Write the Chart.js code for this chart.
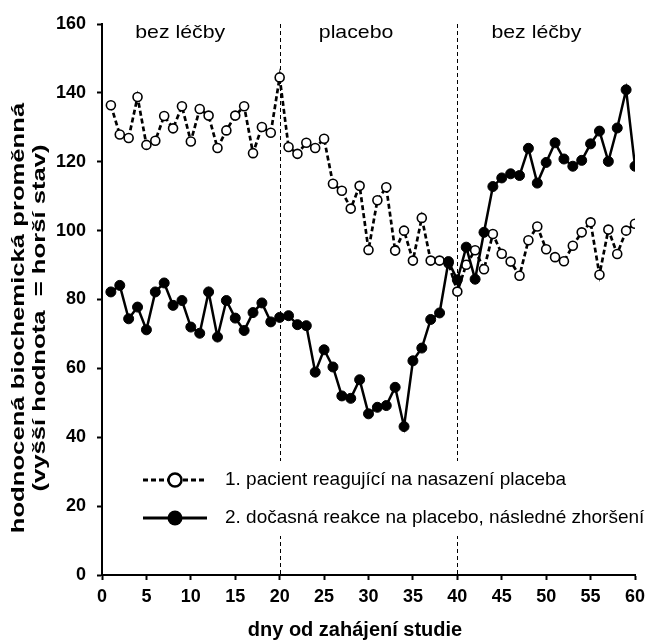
<!DOCTYPE html>
<html>
<head>
<meta charset="utf-8">
<script src="https://cdn.jsdelivr.net/npm/chart.js@4"></script>
<style>
  html, body { margin: 0; padding: 0; background: #fff; }
  canvas { display: block; }
</style>
</head>
<body>
<canvas id="graf" width="671" height="642"></canvas>
<script>
// data
const dny = [1, 2, 3, 4, 5, 6, 7, 8, 9, 10, 11, 12, 13, 14, 15, 16, 17, 18, 19, 20,
    21, 22, 23, 24, 25, 26, 27, 28, 29, 30, 31, 32, 33, 34, 35, 36, 37, 38, 39, 40,
    41, 42, 43, 44, 45, 46, 47, 48, 49, 50, 51, 52, 53, 54, 55, 56, 57, 58, 59, 60];

const pacient1 = [136.4, 127.9, 126.9, 138.8, 124.9, 126.1, 133.3, 129.7, 136.1, 125.9,
    135.3, 133.4, 124.0, 129.1, 133.4, 136.1, 122.5, 130.1, 128.4, 144.5,
    124.3, 122.3, 125.5, 124.0, 126.7, 113.6, 111.6, 106.4, 113.0, 94.4,
    108.8, 112.6, 94.2, 100.0, 91.3, 103.7, 91.3, 91.3, 90.5, 82.3,
    90.1, 94.3, 88.8, 99.0, 93.3, 91.0, 86.9, 97.2, 101.2, 94.6,
    92.3, 91.1, 95.6, 99.5, 102.4, 87.2, 100.3, 93.2, 100.0, 102.0];

const pacient2 = [82.2, 84.1, 74.4, 77.8, 71.2, 82.2, 84.8, 78.3, 79.7, 72.0,
    70.2, 82.2, 69.1, 79.7, 74.6, 71.0, 76.2, 79.0, 73.5, 74.8,
    75.3, 72.7, 72.4, 58.9, 65.4, 60.4, 52.0, 51.3, 56.7, 46.8,
    48.7, 49.2, 54.5, 43.1, 62.2, 65.9, 74.2, 76.1, 91.0, 85.7,
    95.2, 85.9, 99.5, 112.8, 115.3, 116.5, 116.0, 123.9, 113.8, 119.8,
    125.5, 120.8, 118.7, 120.4, 125.2, 128.9, 120.1, 129.8, 140.9, 118.7];

const nazvySerii = ['1. pacient reagující na nasazení placeba', '2. dočasná reakce na placebo, následné zhoršení'];
const obdobi = ['bez léčby', 'placebo', 'bez léčby'];
const hraniceObdobi = [20, 40];
const yTicks = [0, 20, 40, 60, 80, 100, 120, 140, 160];
const xTicks = [0, 5, 10, 15, 20, 25, 30, 35, 40, 45, 50, 55, 60];

const PISMO = '"Liberation Sans", Arial, sans-serif';

function body(hodnoty) {
    return dny.map((d, i) => ({ x: d, y: hodnoty[i] }));
}

// svislé čárkované čáry + popisky období
const obdobiPlugin = {
    id: 'obdobi',
    beforeDatasetsDraw(chart) {
        const { ctx, chartArea, scales } = chart;
        ctx.save();
        ctx.strokeStyle = '#000';
        ctx.lineWidth = 1;
        ctx.setLineDash([4, 3]);
        hraniceObdobi.forEach(d => {
            const x = Math.round(scales.x.getPixelForValue(d)) + 0.5;
            ctx.beginPath();
            ctx.moveTo(x, chartArea.top);
            ctx.lineTo(x, chartArea.bottom);
            ctx.stroke();
        });
        ctx.setLineDash([]);
        ctx.fillStyle = '#000';
        ctx.font = '19px ' + PISMO;
        ctx.textAlign = 'center';
        ctx.textBaseline = 'middle';
        const stredy = [8.8, 28.6, 48.9];
        obdobi.forEach((t, i) => {
            ctx.save();
            ctx.translate(scales.x.getPixelForValue(stredy[i]), 33);
            ctx.scale(1.12, 1);
            ctx.fillText(t, 0, 0);
            ctx.restore();
        });
        ctx.restore();
    }
};

// legenda uvnitř grafu a názvy os
const popiskyPlugin = {
    id: 'popisky',
    afterDraw(chart) {
        const { ctx } = chart;
        ctx.save();
        // bílé pozadí legendy
        ctx.fillStyle = '#fff';
        ctx.fillRect(138, 461, 525, 75);

        const radky = [480, 518];
        ctx.strokeStyle = '#000';
        ctx.lineWidth = 3;
        // 1. vzorek - čárkovaný s prázdným kroužkem
        ctx.setLineDash([5, 3]);
        ctx.beginPath();
        ctx.moveTo(143, radky[0]);
        ctx.lineTo(207, radky[0]);
        ctx.stroke();
        ctx.setLineDash([]);
        ctx.beginPath();
        ctx.arc(175, radky[0], 6.5, 0, Math.PI * 2);
        ctx.fillStyle = '#fff';
        ctx.fill();
        ctx.lineWidth = 2.5;
        ctx.stroke();
        // 2. vzorek - plná čára s plným kroužkem
        ctx.lineWidth = 3;
        ctx.beginPath();
        ctx.moveTo(143, radky[1]);
        ctx.lineTo(207, radky[1]);
        ctx.stroke();
        ctx.beginPath();
        ctx.arc(175, radky[1], 7.5, 0, Math.PI * 2);
        ctx.fillStyle = '#000';
        ctx.fill();

        ctx.fillStyle = '#000';
        ctx.font = '19px ' + PISMO;
        ctx.textAlign = 'left';
        ctx.textBaseline = 'middle';
        nazvySerii.forEach((t, i) => ctx.fillText(t, 225, radky[i]));

        // název osy x
        ctx.font = 'bold 20px ' + PISMO;
        ctx.textAlign = 'center';
        ctx.fillText('dny od zahájení studie', 355, 630);

        // název osy y (dva řádky)
        ctx.font = 'bold 19px ' + PISMO;
        ctx.translate(18.5, 318);
        ctx.rotate(-Math.PI / 2);
        ctx.scale(1.35, 1);
        ctx.fillText('hodnocená biochemická proměnná', 0, 0);
        ctx.fillText('(vyšší hodnota  = horší stav)', 0, 21);
        ctx.restore();
    }
};

new Chart(document.getElementById('graf'), {
    type: 'line',
    data: {
        datasets: [{
            label: nazvySerii[1],
            data: body(pacient2),
            order: 0,
            borderColor: '#000',
            borderWidth: 2.5,
            backgroundColor: '#000',
            pointRadius: 5,
            pointBackgroundColor: '#000',
            pointBorderColor: '#000',
            pointBorderWidth: 1,
            tension: 0
        }, {
            label: nazvySerii[0],
            data: body(pacient1),
            order: 1,
            borderColor: '#000',
            borderWidth: 2.7,
            borderDash: [5, 3],
            pointRadius: 4.5,
            pointBackgroundColor: '#fff',
            pointBorderColor: '#000',
            pointBorderWidth: 1.6,
            tension: 0
        }]
    },
    options: {
        responsive: false,
        animation: false,
        layout: { padding: { top: 24, right: 36, bottom: 0, left: 0 } },
        plugins: {
            legend: { display: false },
            tooltip: { enabled: false }
        },
        scales: {
            x: {
                type: 'linear',
                min: 0,
                max: 60,
                afterFit(scale) { scale.height = 67; },
                afterBuildTicks(scale) { scale.ticks = xTicks.map(v => ({ value: v })); },
                grid: { drawOnChartArea: false, drawTicks: true, tickLength: 5, tickColor: '#000', tickWidth: 2 },
                border: { display: true, color: '#000', width: 2 },
                ticks: { color: '#000', padding: 6, maxRotation: 0, font: { family: PISMO, size: 18, weight: 'bold' } }
            },
            y: {
                min: 0,
                max: 160,
                afterFit(scale) { scale.width = 102; },
                afterBuildTicks(scale) { scale.ticks = yTicks.map(v => ({ value: v })); },
                grid: { drawOnChartArea: false, drawTicks: true, tickLength: 5, tickColor: '#000', tickWidth: 2 },
                border: { display: true, color: '#000', width: 2 },
                ticks: { color: '#000', padding: 11, font: { family: PISMO, size: 18, weight: 'bold' } }
            }
        }
    },
    plugins: [obdobiPlugin, popiskyPlugin]
});
</script>
</body>
</html>
